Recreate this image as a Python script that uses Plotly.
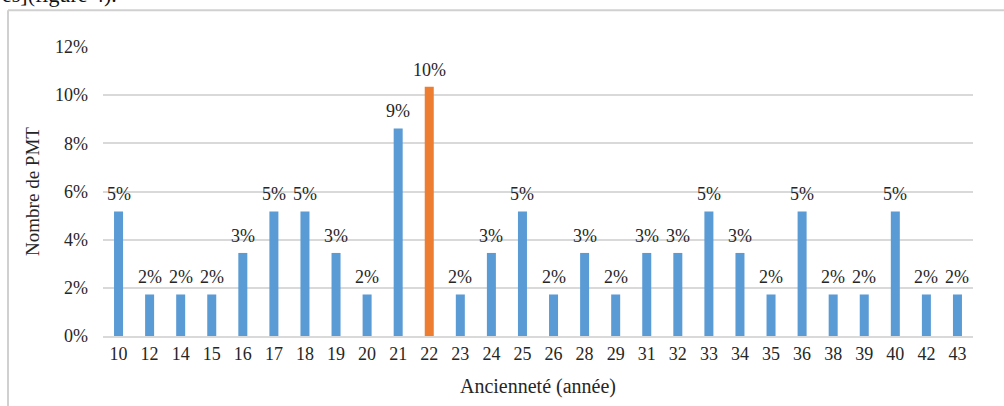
import plotly.graph_objects as go

categories = ["10", "12", "14", "15", "16", "17", "18", "19", "20", "21", "22", "23", "24", "25",
              "26", "28", "29", "31", "32", "33", "34", "35", "36", "38", "39", "40", "42", "43"]
counts = [3, 1, 1, 1, 2, 3, 3, 2, 1, 5, 6, 1, 2, 3, 1, 2, 1, 2, 2, 3, 2, 1, 3, 1, 1, 3, 1, 1]
total = 58
shares = [c / total for c in counts]
highlight = "22"
y_ticks = [0, 0.02, 0.04, 0.06, 0.08, 0.10, 0.12]
y_tick_text = ["0%", "2%", "4%", "6%", "8%", "10%", "12%"]

BLUE = "#5B9BD5"
ORANGE = "#ED7D31"
colors = [ORANGE if c == highlight else BLUE for c in categories]
FONT = "Liberation Serif"
TXT = "#262626"

fig = go.Figure(go.Bar(
    x=categories, y=shares, marker=dict(color=colors, line=dict(width=0)),
    hoverinfo="x+y",
))

# value labels above bars (x given as category index on the category axis)
for i, s in enumerate(shares):
    fig.add_annotation(x=i, y=s, text=f"{round(s*100):.0f}%", showarrow=False,
                       yanchor="bottom", yshift=5, font=dict(family=FONT, size=18, color=TXT))

W, H = 1004, 406
L, R, T, B = 103, 31, 47, 68
pw, ph = W - L - R, H - T - B

fig.update_layout(
    width=W, height=H, margin=dict(l=L, r=R, t=T, b=B),
    paper_bgcolor="white", plot_bgcolor="white",
    bargap=0.71, showlegend=False,
    font=dict(family=FONT, size=18, color=TXT),
    xaxis=dict(type="category", range=[-0.5, len(categories) - 0.5], autorange=False,
               showgrid=False, showline=True, linecolor="#D9D9D9", linewidth=2,
               ticks="", tickmode="linear", dtick=1, tickfont=dict(family=FONT, size=18, color=TXT),
               title=dict(text="Ancienneté (année)", font=dict(family=FONT, size=20, color=TXT), standoff=16)),
    yaxis=dict(range=[0, 0.12], autorange=False, tickvals=y_ticks, ticktext=y_tick_text, showgrid=True,
               gridcolor="#D9D9D9", gridwidth=2, zeroline=False, ticks="", ticklabelstandoff=14,
               tickfont=dict(family=FONT, size=18, color=TXT),
               title=dict(text="Nombre de PMT", font=dict(family=FONT, size=19, color=TXT), standoff=10)),
)

# outer frame (partially cut by window)
x0 = (8 - L) / pw
y1 = 1 + (T - 10) / ph
fig.add_shape(type="line", xref="paper", yref="paper", x0=x0, x1=x0, y0=y1, y1=-(B + 10) / ph,
              line=dict(color="#D0D0D0", width=2))
fig.add_shape(type="line", xref="paper", yref="paper", x0=x0, x1=1 + (R + 10) / pw, y0=y1, y1=y1,
              line=dict(color="#D0D0D0", width=2))

# cropped text from surrounding document (only its lower part is visible)
fig.add_annotation(text="es](figure 4).", xref="paper", yref="paper", x=-L / pw, xanchor="left",
                   y=1 + (T - 9) / ph, yanchor="bottom", showarrow=False,
                   font=dict(family=FONT, size=22, color="#111"))

fig.write_html("out.html")
